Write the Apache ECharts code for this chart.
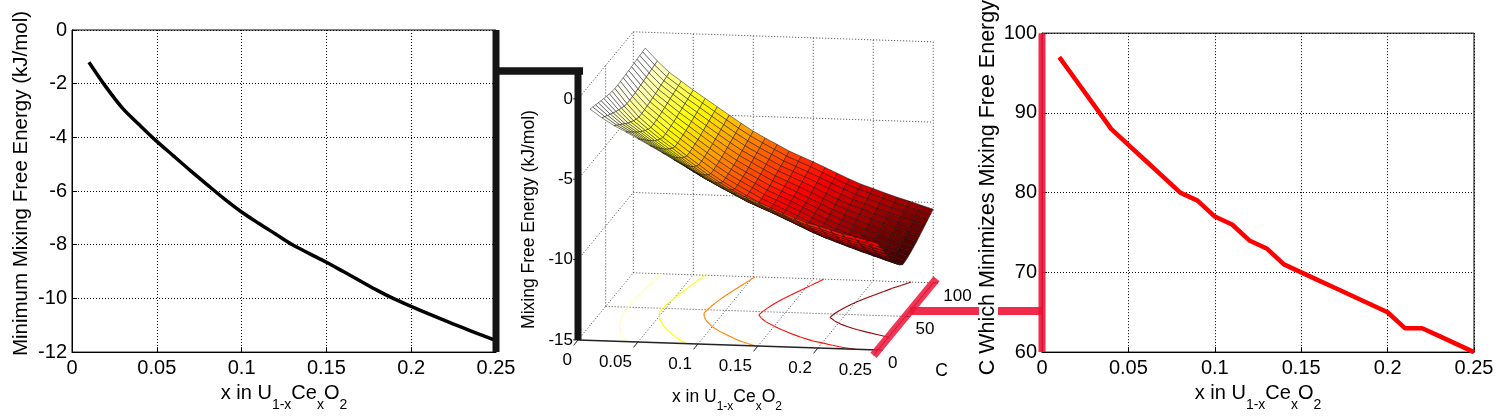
<!DOCTYPE html>
<html>
<head>
<meta charset="utf-8">
<script src="https://cdn.jsdelivr.net/npm/echarts@6/dist/echarts.min.js"></script>
<style>html,body{margin:0;padding:0;background:#fff}#c{width:1498px;height:417px}</style>
</head>
<body>
<div id="c"></div>
<script>
const FONT = 'Liberation Sans, Arial, sans-serif';

// ---- data ----
const xValues = [0.01,0.02,0.03,0.04,0.05,0.06,0.07,0.08,0.09,0.10,0.11,0.12,0.13,0.14,0.15,0.16,0.17,0.18,0.19,0.20,0.21,0.22,0.23,0.24,0.25];
const minEnergy = [-1.2,-2.12,-2.93,-3.55,-4.15,-4.7,-5.25,-5.78,-6.3,-6.78,-7.2,-7.6,-8.0,-8.33,-8.65,-9.0,-9.35,-9.7,-10.02,-10.3,-10.57,-10.83,-11.08,-11.33,-11.57];
const optimalC = [97,94,91,88,86,84,82,80,79,77,76,74,73,71,70,69,68,67,66,65,63,63,62,61,60];
// 3D surface: energy rise above the minimum, read along C (shape) and along x (scale)
const surfaceC = [0,5,10,15,20,25,30,35,40,45,50,55,60,65,70,75,80,85,90,95,100];
const riseShape = [1.0,0.86,0.73,0.60,0.47,0.35,0.24,0.14,0.06,0.0,0.01,0.03,0.055,0.085,0.12,0.16,0.20,0.24,0.28,0.32,0.36];
const riseScale = [0.6,1.0,1.35,1.6,1.8,1.95,2.1,2.2,2.3,2.35,2.4,2.45,2.5,2.55,2.6,2.65,2.7,2.75,2.8,2.9,2.95,3.0,3.1,3.15,3.2];
const colorRange = [-12.4, -1.0];
const contourLevels = [-2,-4,-6,-8,-10];
const xTicks3d = [0,0.05,0.1,0.15,0.2,0.25];
const cTicks3d = [0,50,100];
const zTicks3d = [-15,-10,-5,0];
const view3d = {azimuth: 9.4, elevation: 11.6, lenX: 304, lenC: 338.6, lenZ: 246,
                xRange: [0,0.25], cRange: [0,100], zRange: [-15,0]};
// connector bar levels
const leftConnectorE = -1.53;
const leftConnectorEndX = 0.3013;
const rightConnectorC = 65.15;
const rightConnectorStartX = -0.0762;
const middleBarTopE = 1.93;

// ---- helpers ----
const D2R = Math.PI/180;
function proj(x, c, z) {
  const a = view3d.azimuth*D2R, e = view3d.elevation*D2R;
  const X = view3d.lenX*(x-view3d.xRange[0])/(view3d.xRange[1]-view3d.xRange[0]);
  const Y = view3d.lenC*(c-view3d.cRange[0])/(view3d.cRange[1]-view3d.cRange[0]);
  const Z = view3d.lenZ*(z-view3d.zRange[0])/(view3d.zRange[1]-view3d.zRange[0]);
  return {
    u: Math.cos(a)*X + Math.sin(a)*Y,
    v: -Math.sin(e)*Math.sin(a)*X + Math.sin(e)*Math.cos(a)*Y + Math.cos(e)*Z,
    d: Math.cos(e)*Math.sin(a)*X - Math.cos(e)*Math.cos(a)*Y + Math.sin(e)*Z
  };
}
function clamp01(v){return Math.max(0,Math.min(1,v));}
function hot(t) {
  const k = Math.min(64, Math.floor(clamp01(t)*64)+1);
  const r = Math.min(1,k/24), g = clamp01((k-24)/24), b = clamp01((k-48)/16);
  return 'rgb(' + Math.round(r*255) + ',' + Math.round(g*255) + ',' + Math.round(b*255) + ')';
}
const tOf = e => (e-colorRange[0])/(colorRange[1]-colorRange[0]);

// surface table
const surfaceE = xValues.map((x,i) => surfaceC.map((c,j) => minEnergy[i] + riseScale[i]*riseShape[j]));

// faces, far to near
const faces = [];
for (let i=0;i<xValues.length-1;i++) for (let j=0;j<surfaceC.length-1;j++) {
  const idx = [[i,j],[i+1,j],[i+1,j+1],[i,j+1]];
  const pts = idx.map(([a,b]) => proj(xValues[a], surfaceC[b], surfaceE[a][b]));
  const eFace = (surfaceE[i][j] + surfaceE[i][j+1])/2;
  const dAvg = pts.reduce((s,p) => s+p.d, 0)/4;
  faces.push({pts, color: hot(tOf(eFace)), d: dAvg});
}
faces.sort((p,q) => p.d - q.d);

// floor contours (marching squares)
const contourSegs = [];
contourLevels.forEach(L => {
  const col = hot(tOf(L));
  for (let i=0;i<xValues.length-1;i++) for (let j=0;j<surfaceC.length-1;j++) {
    const cs = [[i,j],[i+1,j],[i+1,j+1],[i,j+1]];
    const hits = [];
    for (let k=0;k<4;k++) {
      const [a1,b1] = cs[k], [a2,b2] = cs[(k+1)%4];
      const v1 = surfaceE[a1][b1]-L, v2 = surfaceE[a2][b2]-L;
      if ((v1<0 && v2>=0) || (v1>=0 && v2<0)) {
        const t = v1/(v1-v2);
        hits.push([xValues[a1]+t*(xValues[a2]-xValues[a1]), surfaceC[b1]+t*(surfaceC[b2]-surfaceC[b1])]);
      }
    }
    for (let h=0; h+1<hits.length; h+=2) {
      contourSegs.push({a: proj(hits[h][0],hits[h][1],-15), b: proj(hits[h+1][0],hits[h+1][1],-15), color: col});
    }
  }
});

// background grid of the 3D box
const gridSegs = [];
function gseg(p, q){ gridSegs.push({a: proj(...p), b: proj(...q)}); }
xTicks3d.forEach(x => { gseg([x,0,-15],[x,100,-15]); gseg([x,100,-15],[x,100,0]); });
cTicks3d.filter(c => c>0).forEach(c => gseg([0,c,-15],[0.25,c,-15]));
gseg([0,50,-15],[0,50,0]);
zTicks3d.filter(z => z>-15).forEach(z => { gseg([0,100,z],[0.25,100,z]); gseg([0,0,z],[0,100,z]); });

// solid axes and ticks
const axisSegs = [];
function aseg(p, q, w){ axisSegs.push({a: proj(...p), b: proj(...q), w: w||1}); }
aseg([0,0,-15],[0.25,0,-15], 1.3);
aseg([0.25,0,-15],[0.25,100,-15]);
aseg([0,0,-15],[0,0,0]);
xTicks3d.forEach(x => aseg([x,0,-15],[x,-8,-15]));
zTicks3d.forEach(z => aseg([0,0,z],[-0.004,0,z]));
cTicks3d.forEach(c => aseg([0.25,c,-15],[0.254,c,-15]));

// connectors inside the 3D panel
const barSegs = [
  {a: proj(0,0,-15), b: proj(0,0,middleBarTopE), w: 7, color: '#151515'},
  {a: proj(0.25,-8,-15), b: proj(0.25,106,-15), w: 8, color: 'rgba(238,20,55,0.85)'}
];

// rich text for subscripts
const subRich = (main, sub, pt) => ({
  a: {fontSize: main, fontFamily: FONT, color: '#000'},
  s: {fontSize: sub, fontFamily: FONT, color: '#000', padding: [pt,0,0,0]}
});
const xTitle = '{a|x in U}{s|1-x}{a|Ce}{s|x}{a|O}{s|2}';

// 3D labels
const labels3d = [];
xTicks3d.forEach(x => labels3d.push({p: proj(x,0,-15), dx: -6, dy: 20, text: String(x), align: 'right', va: 'middle', size: 17}));
zTicks3d.forEach(z => labels3d.push({p: proj(0,0,z), dx: -5, dy: 0, text: String(z), align: 'right', va: 'middle', size: 17}));
cTicks3d.forEach(c => labels3d.push({p: proj(0.25,c,-15), dx: 10, dy: 13, text: String(c), align: 'left', va: 'middle', size: 17}));
labels3d.push({p: proj(0.25,50,-15), dx: 36, dy: 55, text: 'C', align: 'center', va: 'middle', size: 17.5});
labels3d.push({p: proj(0,0,-7.5), dx: -48.5, dy: 0, text: 'Mixing Free Energy (kJ/mol)', align: 'center', va: 'middle', size: 17.5, rot: Math.PI/2});
labels3d.push({p: proj(0.125,0,-15), dx: -1, dy: 35.7, text: xTitle, align: 'center', va: 'top', size: 17.5, rich: subRich(17.5, 12, 20)});

const idxData = arr => arr.map(() => [0,0]);
function segEl(pa, pb, style) {
  return {type: 'line', shape: {x1: pa[0], y1: pa[1], x2: pb[0], y2: pb[1]}, style: style};
}
function lineEl(api, s, style) {
  return segEl(api.coord([s.a.u, s.a.v]), api.coord([s.b.u, s.b.v]), style);
}
const custom3d = (name, arr, z, fn) => ({
  type: 'custom', name, coordinateSystem: 'cartesian2d', xAxisIndex: 2, yAxisIndex: 2,
  data: idxData(arr), z, silent: true, clip: false, animation: false,
  renderItem: (params, api) => fn(arr[params.dataIndex], api)
});
const barSeries = (name, gridIdx, arr, z) => ({
  type: 'custom', name, coordinateSystem: 'cartesian2d', xAxisIndex: gridIdx, yAxisIndex: gridIdx,
  data: idxData(arr), z, silent: true, clip: false, animation: false,
  renderItem: (params, api) => {
    const s = arr[params.dataIndex];
    return segEl(api.coord(s.a), api.coord(s.b), {stroke: s.color, lineWidth: s.w});
  }
});

const axisCommonX = {
  type: 'value', min: 0, max: 0.25, interval: 0.05,
  axisLine: {show: true, onZero: false, lineStyle: {color: '#000', width: 1}},
  axisTick: {show: true, inside: true, length: 5, lineStyle: {color: '#000'}},
  axisLabel: {color: '#000', fontSize: 20, fontFamily: FONT, margin: 6},
  splitLine: {show: true, lineStyle: {type: [1,2], color: '#000', width: 1}},
  name: xTitle, nameLocation: 'middle', nameGap: 21,
  nameTextStyle: {fontSize: 20, fontFamily: FONT, color: '#000', rich: subRich(20, 14, 24)}
};
const axisCommonY = {
  type: 'value', nameLocation: 'middle', nameRotate: 90,
  axisLine: {show: true, onZero: false, lineStyle: {color: '#000', width: 1}},
  axisTick: {show: true, inside: true, length: 5, lineStyle: {color: '#000'}},
  axisLabel: {color: '#000', fontSize: 20, fontFamily: FONT, margin: 5},
  splitLine: {show: true, lineStyle: {type: [1,2], color: '#000', width: 1}}
};

const RED = 'rgba(238,20,55,0.9)';
const option = {
  animation: false,
  backgroundColor: '#fff',
  textStyle: {fontFamily: FONT},
  grid: [
    {left: 72, top: 30, width: 424, height: 325, show: true, borderColor: '#000', borderWidth: 1},
    {left: 1042, top: 32, width: 432, height: 324, show: true, borderColor: '#000', borderWidth: 1},
    {left: 568, top: 0, width: 410, height: 400, show: false}
  ],
  xAxis: [
    Object.assign({gridIndex: 0}, axisCommonX),
    Object.assign({gridIndex: 1}, axisCommonX),
    {gridIndex: 2, type: 'value', min: -10, max: 400, show: false}
  ],
  yAxis: [
    Object.assign({gridIndex: 0, min: -12, max: 0, interval: 2, name: 'Minimum Mixing Free Energy (kJ/mol)', nameGap: 40,
      nameTextStyle: {fontSize: 20.5, fontFamily: FONT, color: '#000', padding: [0,0,0,15]}}, axisCommonY),
    Object.assign({gridIndex: 1, min: 60, max: 100, interval: 10, name: 'C Which Minimizes Mixing Free Energy', nameGap: 44,
      nameTextStyle: {fontSize: 21.5, fontFamily: FONT, color: '#000', backgroundColor: '#fff', lineHeight: 19, padding: [0,0,0,10]}}, axisCommonY),
    {gridIndex: 2, type: 'value', min: -60, max: 340, show: false}
  ],
  series: [
    {type: 'line', name: 'min energy', xAxisIndex: 0, yAxisIndex: 0, data: xValues.map((x,i) => [x, minEnergy[i]]),
     symbol: 'none', smooth: 0.3, lineStyle: {color: '#000', width: 3.5}, z: 3},
    barSeries('left bars', 0, [
      {a: [0.25,0], b: [0.25,-12], w: 7, color: '#151515'},
      {a: [0.25,leftConnectorE], b: [leftConnectorEndX,leftConnectorE], w: 7.5, color: '#151515'}
    ], 5),
    {type: 'line', name: 'optimal C', xAxisIndex: 1, yAxisIndex: 1, data: xValues.map((x,i) => [x, optimalC[i]]),
     symbol: 'none', lineStyle: {color: '#ff0000', width: 4.5}, z: 3},
    barSeries('right edge bar', 1, [{a: [0,60], b: [0,100], w: 7, color: RED}], 5),
    barSeries('right connector', 1, [{a: [rightConnectorStartX,rightConnectorC], b: [0,rightConnectorC], w: 8, color: RED}], -1),
    custom3d('grid3d', gridSegs, 1, (s, api) => lineEl(api, s, {stroke: '#444', lineWidth: 1, lineDash: [1,2]})),
    custom3d('contours', contourSegs, 2, (s, api) => lineEl(api, s, {stroke: s.color, lineWidth: 1.1})),
    custom3d('axes3d', axisSegs, 3, (s, api) => lineEl(api, s, {stroke: '#222', lineWidth: s.w})),
    custom3d('surface', faces, 4, (f, api) => ({
      type: 'polygon',
      shape: {points: f.pts.map(p => api.coord([p.u, p.v]))},
      style: {fill: f.color, stroke: '#111', lineWidth: 0.5}
    })),
    custom3d('bars3d', barSegs, 5, (s, api) => lineEl(api, s, {stroke: s.color, lineWidth: s.w})),
    custom3d('labels3d', labels3d, 6, (l, api) => {
      const p = api.coord([l.p.u, l.p.v]);
      const st = {text: l.text, fill: '#000', fontSize: l.size, fontFamily: FONT,
                  align: l.align, verticalAlign: l.va, textAlign: l.align, textVerticalAlign: l.va};
      if (l.rich) st.rich = l.rich;
      return {type: 'text', x: p[0]+l.dx, y: p[1]+l.dy, rotation: l.rot || 0, style: st};
    })
  ]
};
const chart = echarts.init(document.getElementById('c'));
chart.setOption(option);
</script>
</body>
</html>
